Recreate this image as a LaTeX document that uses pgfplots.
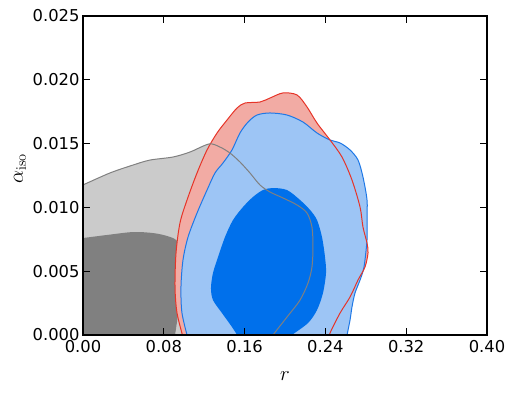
\documentclass[border=0pt]{standalone}
\usepackage{pgfplots}
\pgfplotsset{compat=1.18}
\usepackage[no-math]{fontspec}
\setmainfont{DejaVu Sans}
\definecolor{lgray}{HTML}{CBCBCB}
\definecolor{dgray}{HTML}{808080}
\definecolor{redfill}{HTML}{F2ABA4}
\definecolor{redline}{HTML}{E63428}
\definecolor{bluefill}{HTML}{9DC5F5}
\definecolor{blueline}{HTML}{1E78E6}
\definecolor{bluedark}{HTML}{0070EB}

\begin{document}
\begin{tikzpicture}[x=1bp,y=1bp]
\useasboundingbox (0,0) rectangle (513,393);
\begin{axis}[
    at={(83bp,58bp)}, anchor=south west,
    width=404bp, height=319bp, scale only axis,
    xmin=0, xmax=0.4, ymin=0, ymax=0.025,
    xtick={0,0.08,0.16,0.24,0.32,0.40},
    ytick={0,0.005,0.010,0.015,0.020,0.025},
    scaled ticks=false,
    xticklabel style={yshift=-2bp, /pgf/number format/.cd, fixed, fixed zerofill, precision=2},
    yticklabel style={/pgf/number format/.cd, fixed, fixed zerofill, precision=3},
    /pgf/number format/assume math mode=true,
    tick label style={font=\fontsize{16.4}{19}\selectfont},
    tick align=inside, xtick pos=both, ytick pos=both,
    major tick length=7bp,
    tick style={black, line width=0.8bp},
    axis line style={black, line width=1.2bp},
    axis on top,
    xlabel={$r$}, ylabel={$\alpha_{\mathrm{iso}}$},
    label style={font=\fontsize{20}{22}\selectfont},
    xlabel style={yshift=-12bp},
    ylabel style={xshift=7bp},
  ]

  % light gray region (outer grey contour)
  \addplot[draw=none, fill=lgray, smooth] coordinates {
    (0,0.01176) (0.0267,0.01270) (0.0495,0.01332) (0.0663,0.01371)
    (0.0891,0.01395) (0.1059,0.01434) (0.1248,0.01497) (0.1356,0.01473)
    (0.1455,0.01426) (0.1554,0.01356) (0.1653,0.01270) (0.1752,0.01176)
    (0.1851,0.01121) (0.1980,0.01074) (0.2119,0.01019) (0.2218,0.00956)
    (0.2267,0.00846) (0.2277,0.00690) (0.2267,0.00533) (0.2228,0.00408)
    (0.2149,0.00274) (0.2020,0.00141) (0.1881,0) (0.1860,-0.0003)
  } \closedcycle;

  % dark gray region (inner grey contour)
  \addplot[draw=none, fill=dgray, smooth] coordinates {
    (0,0.00760) (0.0238,0.00784) (0.0495,0.00807) (0.0693,0.00799)
    (0.0832,0.00776) (0.0931,0.00737) (0.0960,0.00627) (0.0970,0.00353)
    (0.0940,0.00157) (0.0911,0) (0.0901,-0.0003)
  } \closedcycle;

  % red outer contour
  \addplot[draw=none, fill=redfill, smooth] coordinates {
    (0.0995,-0.0003) (0.0931,0.00172) (0.0911,0.00376) (0.0921,0.00643)
    (0.0960,0.00878) (0.1030,0.01058) (0.1129,0.01270) (0.1228,0.01450)
    (0.1327,0.01583) (0.1426,0.01685) (0.1525,0.01779) (0.1604,0.01818)
    (0.1752,0.01826) (0.1851,0.01857) (0.1980,0.01897) (0.2119,0.01881)
    (0.2218,0.01787) (0.2317,0.01661) (0.2446,0.01528) (0.2564,0.01395)
    (0.2663,0.01215) (0.2743,0.01003) (0.2772,0.00846) (0.2812,0.00721)
    (0.2822,0.00643) (0.2792,0.00533) (0.2723,0.00431) (0.2644,0.00298)
    (0.2545,0.00172) (0.2446,0.00016) (0.2436,-0.0003)
  } \closedcycle;

  % blue outer contour
  \addplot[draw=blueline, line width=1bp, fill=bluefill, smooth] coordinates {
    (0.1040,-0.0003) (0.0980,0.00172) (0.0970,0.00376) (0.0990,0.00588)
    (0.1040,0.00768) (0.1129,0.00956) (0.1228,0.01136) (0.1307,0.01270)
    (0.1386,0.01348) (0.1475,0.01450) (0.1554,0.01583) (0.1634,0.01669)
    (0.1723,0.01724) (0.1851,0.01740) (0.2020,0.01724) (0.2178,0.01669)
    (0.2317,0.01583) (0.2446,0.01528) (0.2545,0.01505) (0.2644,0.01450)
    (0.2723,0.01371) (0.2772,0.01238) (0.2812,0.01058) (0.2812,0.00901)
    (0.2812,0.00745) (0.2782,0.00533) (0.2743,0.00431) (0.2693,0.00329)
    (0.2663,0.00219) (0.2644,0.00118) (0.2614,0) (0.2604,-0.0003)
  } \closedcycle;

  % blue inner contour
  \addplot[draw=none, fill=bluedark, smooth] coordinates {
    (0.1550,-0.0003) (0.1475,0.00063) (0.1376,0.00172) (0.1287,0.00274)
    (0.1267,0.00368) (0.1287,0.00486) (0.1337,0.00611) (0.1406,0.00768)
    (0.1485,0.00901) (0.1584,0.01003) (0.1683,0.01082) (0.1782,0.01136)
    (0.1881,0.01152) (0.2020,0.01136) (0.2149,0.01058) (0.2248,0.00980)
    (0.2317,0.00901) (0.2366,0.00768) (0.2396,0.00611) (0.2406,0.00486)
    (0.2376,0.00329) (0.2317,0.00196) (0.2228,0.00094) (0.2069,0)
    (0.2040,-0.0003)
  } \closedcycle;

  % red outline drawn over the blue fill
  \addplot[draw=redline, line width=1bp, smooth] coordinates {
    (0.0995,-0.0003) (0.0931,0.00172) (0.0911,0.00376) (0.0921,0.00643)
    (0.0960,0.00878) (0.1030,0.01058) (0.1129,0.01270) (0.1228,0.01450)
    (0.1327,0.01583) (0.1426,0.01685) (0.1525,0.01779) (0.1604,0.01818)
    (0.1752,0.01826) (0.1851,0.01857) (0.1980,0.01897) (0.2119,0.01881)
    (0.2218,0.01787) (0.2317,0.01661) (0.2446,0.01528) (0.2564,0.01395)
    (0.2663,0.01215) (0.2743,0.01003) (0.2772,0.00846) (0.2812,0.00721)
    (0.2822,0.00643) (0.2792,0.00533) (0.2723,0.00431) (0.2644,0.00298)
    (0.2545,0.00172) (0.2446,0.00016) (0.2436,-0.0003)
  };

  % grey outline on top
  \addplot[draw=dgray, line width=1bp, smooth] coordinates {
    (0,0.01176) (0.0267,0.01270) (0.0495,0.01332) (0.0663,0.01371)
    (0.0891,0.01395) (0.1059,0.01434) (0.1248,0.01497) (0.1356,0.01473)
    (0.1455,0.01426) (0.1554,0.01356) (0.1653,0.01270) (0.1752,0.01176)
    (0.1851,0.01121) (0.1980,0.01074) (0.2119,0.01019) (0.2218,0.00956)
    (0.2267,0.00846) (0.2277,0.00690) (0.2267,0.00533) (0.2228,0.00408)
    (0.2149,0.00274) (0.2020,0.00141) (0.1881,0) (0.1860,-0.0003)
  };

\end{axis}
\end{tikzpicture}
\end{document}
